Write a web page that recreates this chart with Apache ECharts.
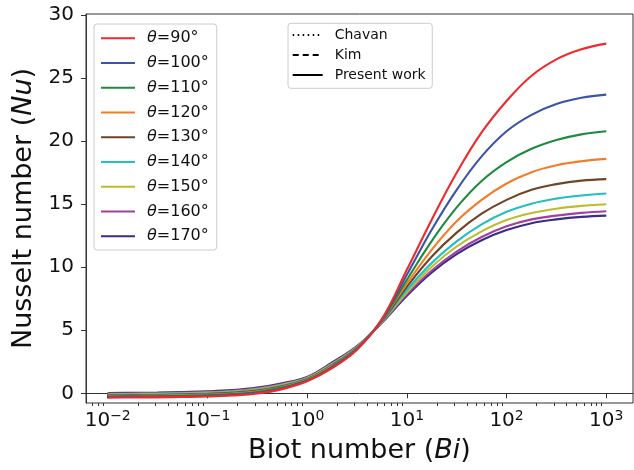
<!DOCTYPE html>
<html>
<head>
<meta charset="utf-8">
<script src="https://cdn.jsdelivr.net/npm/echarts@6/dist/echarts.min.js"></script>
<style>
  html, body { margin: 0; padding: 0; background: #fff; }
  #chart { width: 634px; height: 470px; }
</style>
</head>
<body>
<div id="chart"></div>
<script>
const biot = [0.01, 0.0178, 0.0316, 0.0562, 0.1, 0.178, 0.316, 0.562, 1, 1.78, 3.16, 5.62,
              10, 17.8, 31.6, 56.2, 100, 178, 316, 562, 1000];

const angleNames = ['θ=90°', 'θ=100°', 'θ=110°', 'θ=120°', 'θ=130°', 'θ=140°', 'θ=150°', 'θ=160°', 'θ=170°'];
const angleColors = ['#ee2a2e', '#3b55a6', '#1e8a3e', '#f47b2a', '#6e4527', '#22bfc4', '#bcbd2c', '#a0409e', '#3a2c8c'];

// Nusselt number, one array per contact angle
const nu90  = [-0.34, -0.33, -0.32, -0.29, -0.25, -0.17, -0.02, 0.33, 0.95, 2.0, 3.45, 5.9, 9.8, 13.8, 17.5, 20.7, 23.2, 25.2, 26.5, 27.3, 27.75];
const nu100 = [-0.295, -0.284, -0.27, -0.24, -0.2, -0.12, 0.04, 0.39, 0.99, 2.06, 3.49, 5.86, 9.4, 13.0, 16.15, 18.8, 20.8, 22.1, 22.95, 23.45, 23.7];
const nu110 = [-0.25, -0.238, -0.225, -0.19, -0.15, -0.065, 0.1, 0.45, 1.03, 2.11, 3.53, 5.82, 9.0, 12.1, 14.75, 16.85, 18.35, 19.4, 20.1, 20.55, 20.8];
const nu120 = [-0.205, -0.19, -0.18, -0.145, -0.1, -0.01, 0.155, 0.5, 1.08, 2.17, 3.56, 5.78, 8.7, 11.4, 13.65, 15.35, 16.65, 17.55, 18.1, 18.42, 18.6];
const nu130 = [-0.16, -0.145, -0.13, -0.095, -0.05, 0.04, 0.215, 0.565, 1.12, 2.22, 3.6, 5.74, 8.45, 10.85, 12.75, 14.25, 15.35, 16.15, 16.6, 16.88, 17.0];
const nu140 = [-0.115, -0.1, -0.085, -0.045, 0.0, 0.09, 0.27, 0.62, 1.17, 2.28, 3.64, 5.7, 8.2, 10.35, 12.05, 13.4, 14.4, 15.05, 15.45, 15.7, 15.85];
const nu150 = [-0.07, -0.05, -0.035, 0.0, 0.05, 0.145, 0.33, 0.68, 1.21, 2.34, 3.67, 5.67, 8.0, 10.05, 11.65, 12.85, 13.75, 14.3, 14.65, 14.87, 15.0];
const nu160 = [-0.025, -0.005, 0.01, 0.05, 0.1, 0.2, 0.39, 0.74, 1.26, 2.39, 3.71, 5.63, 7.85, 9.75, 11.25, 12.4, 13.25, 13.8, 14.1, 14.32, 14.45];
const nu170 = [0.02, 0.04, 0.06, 0.1, 0.15, 0.25, 0.45, 0.8, 1.3, 2.45, 3.75, 5.6, 7.75, 9.6, 11.05, 12.15, 12.95, 13.5, 13.8, 14.0, 14.1];
const nuSeries = [nu90, nu100, nu110, nu120, nu130, nu140, nu150, nu160, nu170];

// reference legend (line styles only, no data drawn)
const refNames = ['Chavan', 'Kim', 'Present work'];
const refDash = [[1.5, 3.5], [6, 4], 'solid'];

const xMajorTicks = [0.01, 0.1, 1, 10, 100, 1000];
const xMinorTicks = [
  0.007, 0.008, 0.009,
  0.02, 0.03, 0.04, 0.05, 0.06, 0.07, 0.08, 0.09,
  0.2, 0.3, 0.4, 0.5, 0.6, 0.7, 0.8, 0.9,
  2, 3, 4, 5, 6, 7, 8, 9,
  20, 30, 40, 50, 60, 70, 80, 90,
  200, 300, 400, 500, 600, 700, 800, 900
];
const yTicks = [0, 5, 10, 15, 20, 25, 30];

const FONT = 'DejaVu Sans';
const INK = '#111';
const X_MIN = Math.pow(10, -2.218);
const X_MAX = Math.pow(10, 3.268);

const chart = echarts.init(document.getElementById('chart'), null, { renderer: 'canvas' });

const series = nuSeries.map((vals, i) => ({
  name: angleNames[i],
  type: 'line',
  smooth: 0.4,
  symbol: 'none',
  showSymbol: false,
  legendIcon: 'none',
  lineStyle: { color: angleColors[i], width: 2.1 },
  itemStyle: { color: angleColors[i] },
  data: biot.map((b, j) => [b, vals[j]]),
  z: 10 - i
}));

refNames.forEach((n, i) => {
  series.push({
    name: n,
    type: 'line',
    symbol: 'none',
    legendIcon: 'none',
    lineStyle: { color: '#000', width: 1.5, type: refDash[i] },
    itemStyle: { color: '#000' },
    data: []
  });
});

const option = {
  backgroundColor: '#fff',
  animation: false,
  grid: {
    left: 86, top: 14, right: 1, bottom: 67,
    show: true, borderColor: '#333', borderWidth: 1, backgroundColor: 'transparent'
  },
  legend: [
    {
      data: angleNames,
      orient: 'vertical',
      left: 94, top: 24,
      itemWidth: 34, itemHeight: 14, itemGap: 8.75,
      padding: [6.3, 8, 5.7, 6],
      borderColor: '#cccccc', borderWidth: 1, borderRadius: 3,
      backgroundColor: 'rgba(255,255,255,0.8)',
      selectedMode: false,
      itemStyle: { opacity: 0 },
      textStyle: {
        fontFamily: FONT, fontSize: 16, color: INK, padding: [0, 0, 0, 7],
        rich: {
          i: { fontFamily: FONT, fontSize: 16, fontStyle: 'italic', color: INK },
          n: { fontFamily: FONT, fontSize: 16, color: INK }
        }
      },
      formatter: name => '{i|θ}{n|' + name.slice(1) + '}'
    },
    {
      data: refNames,
      orient: 'vertical',
      left: 288, top: 23.3,
      itemWidth: 30, itemHeight: 12, itemGap: 6,
      padding: [4.7, 6.7, 6.3, 3.7],
      borderColor: '#cccccc', borderWidth: 1, borderRadius: 3,
      backgroundColor: 'rgba(255,255,255,0.8)',
      selectedMode: false,
      itemStyle: { opacity: 0 },
      textStyle: { fontFamily: FONT, fontSize: 14, color: INK, padding: [0, 0, 0, 7] }
    }
  ],
  xAxis: [
    {
      type: 'log',
      logBase: 10,
      min: X_MIN, max: X_MAX,
      name: 'Biot number ({i|Bi})',
      nameLocation: 'middle',
      nameGap: 32,
      nameTextStyle: {
        fontFamily: FONT, fontSize: 27, color: INK,
        rich: { i: { fontFamily: FONT, fontSize: 27, fontStyle: 'italic', color: INK } }
      },
      axisLine: { show: true, lineStyle: { color: '#333', width: 1 } },
      axisTick: { show: true, length: 5, customValues: xMajorTicks, lineStyle: { color: '#333' } },
      minorTick: { show: false },
      splitLine: { show: false },
      axisLabel: {
        customValues: xMajorTicks,
        margin: 6,
        color: INK,
        fontFamily: FONT,
        formatter: v => {
          const e = Math.round(Math.log10(v));
          return '{b|10}{s|' + (e < 0 ? '−' + (-e) : e) + '}';
        },
        rich: {
          b: { fontFamily: FONT, fontSize: 20, lineHeight: 24, color: INK },
          s: { fontFamily: FONT, fontSize: 14, lineHeight: 14, padding: [0, 0, 10, 0], color: INK }
        }
      }
    },
    {
      type: 'log',
      logBase: 10,
      min: X_MIN, max: X_MAX,
      position: 'bottom',
      axisLine: { show: false },
      axisTick: { show: true, length: 3, customValues: xMinorTicks, lineStyle: { color: '#333' } },
      axisLabel: { show: false },
      splitLine: { show: false }
    }
  ],
  yAxis: {
    type: 'value',
    min: -0.77, max: 30.1,
    name: 'Nusselt number ({i|Nu})',
    nameLocation: 'middle',
    nameGap: 43,
    nameTextStyle: {
      fontFamily: FONT, fontSize: 27, color: INK,
      rich: { i: { fontFamily: FONT, fontSize: 27, fontStyle: 'italic', color: INK } }
    },
    axisLine: { show: true, lineStyle: { color: '#333', width: 1 } },
    axisTick: { show: true, length: 5, customValues: yTicks, lineStyle: { color: '#333' } },
    splitLine: { show: false },
    axisLabel: {
      customValues: yTicks,
      margin: 12,
      fontFamily: FONT, fontSize: 20, color: INK
    }
  },
  series: series
};

chart.setOption(option);
</script>
</body>
</html>
